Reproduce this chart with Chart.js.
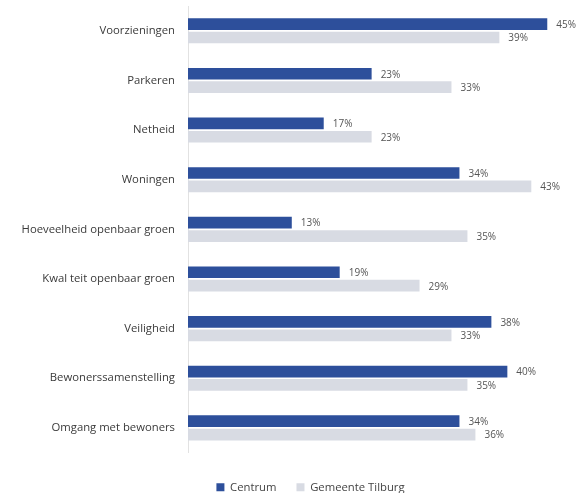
<!DOCTYPE html>
<html>
<head>
<meta charset="utf-8">
<script src="https://cdn.jsdelivr.net/npm/chart.js@4"></script>
<style>
  html, body { margin: 0; padding: 0; background: #fff; }
  #wrap { width: 580px; height: 493px; position: relative; }
</style>
</head>
<body>
<div id="wrap"><canvas id="tevredenChart"></canvas></div>
<script>
// categories and values
const categories = [
  'Voorzieningen', 'Parkeren', 'Netheid', 'Woningen', 'Hoeveelheid openbaar groen',
  'Kwal teit openbaar groen', 'Veiligheid', 'Bewonerssamenstelling', 'Omgang met bewoners'
];
const centrumValues = [45, 23, 17, 34, 13, 19, 38, 40, 34];
const tilburgValues = [39, 33, 23, 43, 35, 29, 33, 35, 36];
const seriesNames = ['Centrum', 'Gemeente Tilburg'];

const labelFont = '"Open Sans", "Noto Sans", sans-serif';

// percentages next to each bar
const valueLabels = {
  id: 'valueLabels',
  afterDatasetsDraw(chart) {
    const ctx = chart.ctx;
    ctx.save();
    ctx.font = '10px ' + labelFont;
    ctx.fillStyle = '#555';
    ctx.textBaseline = 'middle';
    ctx.textAlign = 'left';
    chart.data.datasets.forEach((ds, di) => {
      chart.getDatasetMeta(di).data.forEach((bar, i) => {
        ctx.fillText(ds.data[i] + '%', bar.x + 9, bar.y + 1);
      });
    });
    ctx.restore();
  }
};

const ctx = document.getElementById('tevredenChart');
new Chart(ctx, {
  type: 'bar',
  data: {
    labels: categories,
    datasets: [{
      label: seriesNames[0],
      data: centrumValues,
      backgroundColor: '#2d4f9b',
      categoryPercentage: 0.54,
      barPercentage: 0.87
    }, {
      label: seriesNames[1],
      data: tilburgValues,
      backgroundColor: '#d8dbe3',
      categoryPercentage: 0.54,
      barPercentage: 0.87
    }]
  },
  options: {
    indexAxis: 'y',
    responsive: true,
    maintainAspectRatio: false,
    animation: false,
    // negative right padding keeps the legend centred like the original
    layout: { padding: { top: 6, right: -41, bottom: -10, left: 0 } },
    plugins: {
      tooltip: { enabled: false },
      legend: {
        position: 'bottom',
        labels: {
          boxWidth: 8,
          boxHeight: 8,
          padding: 20,
          color: '#444',
          font: { family: labelFont, size: 11.3 }
        }
      }
    },
    scales: {
      x: {
        min: 0, max: 49.1,
        ticks: { display: false },
        grid: { display: false },
        border: { display: false },
        afterFit: scale => { scale.height = 9; }
      },
      y: {
        grid: { display: false },
        border: { display: true, color: '#e2e2e2' },
        ticks: { color: '#3a3a3a', padding: 5, font: { family: labelFont, size: 11.3 } },
        afterFit: scale => {
          scale.width = 188;
          scale.paddingTop = 0;
          scale.paddingBottom = 0;
        }
      }
    }
  },
  plugins: [valueLabels]
});
</script>
</body>
</html>
